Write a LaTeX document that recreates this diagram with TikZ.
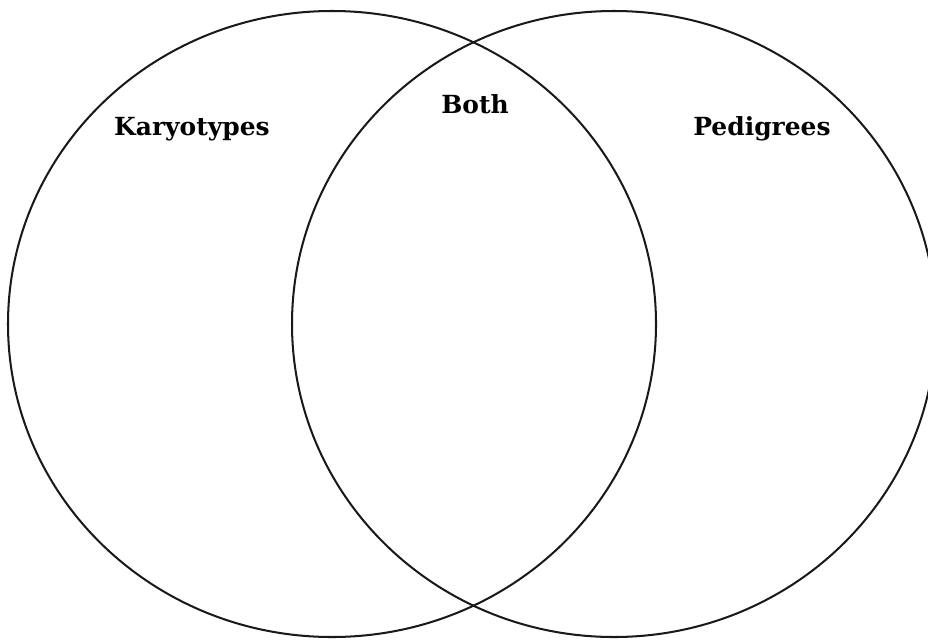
\documentclass[tikz,border=0pt]{standalone}
\usepackage{fontspec}
\setmainfont{DejaVu Serif}
\usetikzlibrary{calc}

\begin{document}
\begin{tikzpicture}[x=0.02cm, y=-0.02cm, line width=1.15pt]
  \useasboundingbox (0, 0) rectangle (928, 639);
  \coordinate (L) at (332, 324);
  \coordinate (R) at (614, 324);

  \draw[black!90] (L) ellipse[x radius=324, y radius=313];
  \draw[black!90] (R) ellipse[x radius=322, y radius=313];

  \node[font=\bfseries\fontsize{14.2}{16}\selectfont] (kar)  at (192, 129) {Karyotypes};
  \node[font=\bfseries\fontsize{14.2}{16}\selectfont] (both) at (475, 104) {Both};
  \node[font=\bfseries\fontsize{14.2}{16}\selectfont] (ped)  at (762, 129) {Pedigrees};
\end{tikzpicture}
\end{document}
